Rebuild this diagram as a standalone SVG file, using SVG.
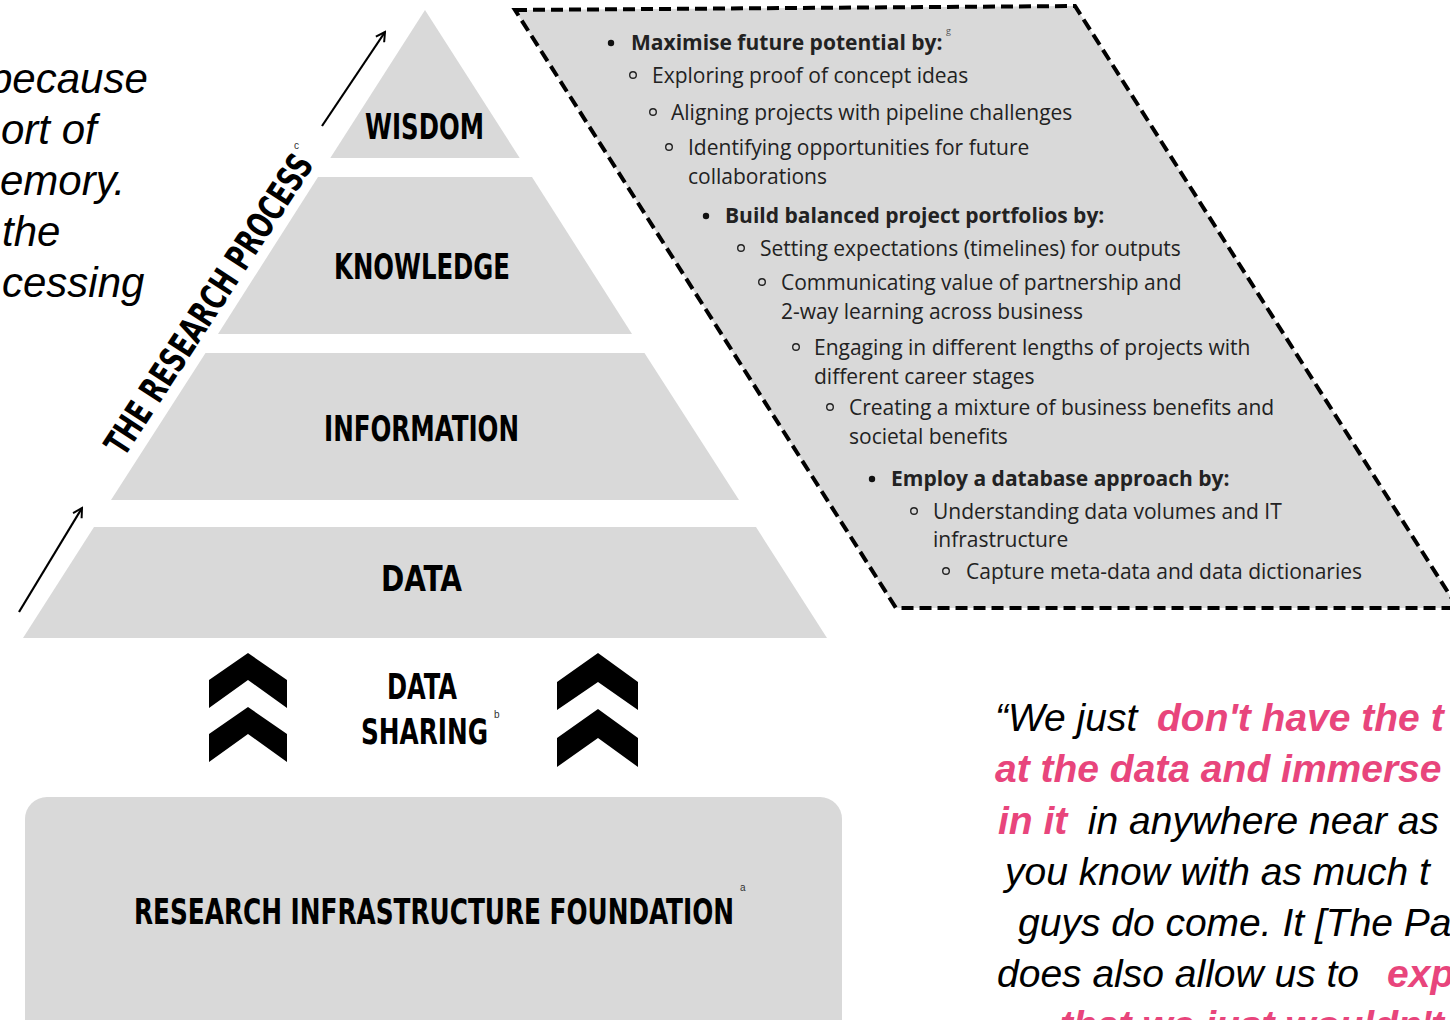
<svg xmlns="http://www.w3.org/2000/svg" width="1450" height="1020" viewBox="0 0 1450 1020">
<defs>
<style>
.tier{fill:#d9d9d9}
.lbl{font-family:"DejaVu Sans",sans-serif;font-weight:bold;font-stretch:condensed;font-size:36px;fill:#000}
.sup{font-family:"Liberation Sans",sans-serif;font-size:10px;fill:#333}
.side{font-family:"Liberation Sans",sans-serif;font-style:italic;font-size:42px;fill:#000}
.lst{font-family:"Open Sans",sans-serif;font-size:21px;fill:#222}
.b{font-weight:bold}
.dot{fill:#111}
.ring{fill:none;stroke:#222;stroke-width:1.4}
.q{font-family:"Liberation Sans",sans-serif;font-style:italic;font-size:39px;fill:#000}
.p{fill:#e8457c;font-weight:bold}
.arr{stroke:#000;stroke-width:2.2;fill:none}
</style>
<marker id="ah" viewBox="0 0 12 12" refX="10" refY="6" markerWidth="12" markerHeight="12" markerUnits="userSpaceOnUse" orient="auto">
<path d="M1,1 L10,6 L1,11" fill="none" stroke="#000" stroke-width="2"/>
</marker>
</defs>
<rect width="1450" height="1020" fill="#fff"/>

<g id="side-text">
<text class="side" x="-11" y="93">because</text>
<text class="side" x="1" y="144">ort of</text>
<text class="side" x="0" y="195">emory.</text>
<text class="side" x="2" y="246">the</text>
<text class="side" x="2" y="297">cessing</text>
</g>

<g id="wisdom">
<polygon class="tier" points="425,10 519.7,158 330.3,158"/>
<text class="lbl" x="365" y="139" textLength="119" lengthAdjust="spacingAndGlyphs">WISDOM</text>
</g>
<g id="knowledge">
<polygon class="tier" points="318,177 532,177 632,334 218,334"/>
<text class="lbl" x="334" y="279" textLength="176" lengthAdjust="spacingAndGlyphs">KNOWLEDGE</text>
</g>
<g id="information">
<polygon class="tier" points="205.5,353 644.5,353 739,500 111,500"/>
<text class="lbl" x="324" y="441" textLength="195" lengthAdjust="spacingAndGlyphs">INFORMATION</text>
</g>
<g id="data">
<polygon class="tier" points="94,527 756,527 827,638 23,638"/>
<text class="lbl" x="381" y="591" textLength="81" lengthAdjust="spacingAndGlyphs">DATA</text>
</g>

<g id="research-process">
<text class="lbl" font-size="34" transform="translate(124,458) rotate(-57)" textLength="350" lengthAdjust="spacingAndGlyphs">THE RESEARCH PROCESS</text>
<text class="sup" x="294" y="149">c</text>
</g>

<g id="data-sharing">
<polygon fill="#000" points="248,653 287,680 287,708 248,680 209,708 209,680"/>
<polygon fill="#000" points="248,707 287,734 287,762 248,734 209,762 209,734"/>
<polygon fill="#000" points="598,653 638,682 638,710 598,682 557,710 557,682"/>
<polygon fill="#000" points="598,709 638,738 638,767 598,738 557,767 557,738"/>
<text class="lbl" x="387" y="699" textLength="70" lengthAdjust="spacingAndGlyphs">DATA</text>
<text class="lbl" x="361" y="744" textLength="127" lengthAdjust="spacingAndGlyphs">SHARING</text>
<text class="sup" x="494" y="718">b</text>
</g>

<g id="foundation">
<rect class="tier" x="25" y="797" width="817" height="260" rx="22"/>
<text class="lbl" x="134" y="924" textLength="600" lengthAdjust="spacingAndGlyphs">RESEARCH INFRASTRUCTURE FOUNDATION</text>
<text class="sup" x="740" y="891">a</text>
</g>

<g id="strategies">
<polygon points="515,10 1075,6 1458,608 896,608" fill="#d9d9d9" stroke="#000" stroke-width="4" stroke-dasharray="12 6"/>
<circle class="dot" cx="611" cy="43" r="3.2"/>
<circle class="dot" cx="706" cy="216" r="3.2"/>
<circle class="dot" cx="872" cy="479" r="3.2"/>
<circle class="ring" cx="633" cy="75" r="3.3"/>
<circle class="ring" cx="653" cy="112" r="3.3"/>
<circle class="ring" cx="669" cy="147" r="3.3"/>
<circle class="ring" cx="741" cy="248" r="3.3"/>
<circle class="ring" cx="762" cy="282" r="3.3"/>
<circle class="ring" cx="796" cy="347" r="3.3"/>
<circle class="ring" cx="830" cy="407" r="3.3"/>
<circle class="ring" cx="914" cy="511" r="3.3"/>
<circle class="ring" cx="946" cy="571" r="3.3"/>
<g class="lst">
<text x="631" y="50" class="b">Maximise future potential by:</text>
<text x="946" y="34" font-size="9" fill="#555">g</text>
<text x="652" y="83">Exploring proof of concept ideas</text>
<text x="671" y="120">Aligning projects with pipeline challenges</text>
<text x="688" y="155">Identifying opportunities for future</text>
<text x="688" y="184">collaborations</text>
<text x="725" y="223" class="b">Build balanced project portfolios by:</text>
<text x="760" y="256">Setting expectations (timelines) for outputs</text>
<text x="781" y="290">Communicating value  of partnership and</text>
<text x="781" y="319">2-way learning across business</text>
<text x="814" y="355">Engaging in different lengths of projects with</text>
<text x="814" y="384">different career stages</text>
<text x="849" y="415">Creating a mixture of business benefits and</text>
<text x="849" y="444">societal benefits</text>
<text x="891" y="486" class="b">Employ a database approach by:</text>
<text x="933" y="519">Understanding data volumes and IT</text>
<text x="933" y="547">infrastructure</text>
<text x="966" y="579">Capture meta-data and data dictionaries</text>
</g>
</g>

<g id="quote" class="q">
<text y="731"><tspan x="995">“We just </tspan><tspan x="1157" class="p">don't have the t</tspan></text>
<text y="782"><tspan x="995" class="p">at the data and immerse</tspan></text>
<text y="834"><tspan x="998" class="p">in it</tspan><tspan x="1077"> in anywhere near as</tspan></text>
<text y="885" x="1005">you know with as much t</text>
<text y="936" x="1018">guys do come. It [The Pa</text>
<text y="987"><tspan x="997">does also allow us to </tspan><tspan x="1387" class="p">exp</tspan></text>
<text y="1038"><tspan x="1060" class="p">that we just wouldn't</tspan></text>
</g>

<g id="connectors">
<line class="arr" x1="322" y1="126" x2="385" y2="32" marker-end="url(#ah)"/>
<line class="arr" x1="19" y1="612" x2="82" y2="508" marker-end="url(#ah)"/>
</g>
</svg>
